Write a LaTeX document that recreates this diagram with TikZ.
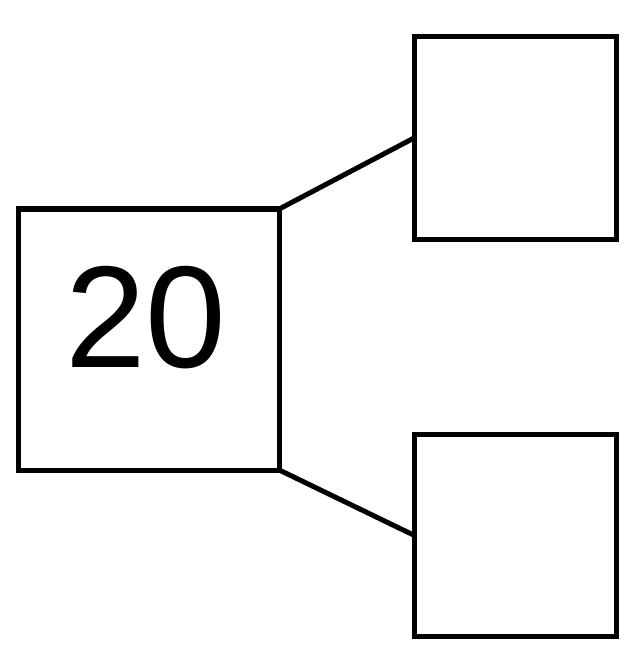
\documentclass[tikz,border=0pt]{standalone}
\usepackage{fontspec}
\setmainfont{Liberation Sans}
\usepackage{tikz}
\usetikzlibrary{positioning}

\tikzset{
    box/.style={draw, line width=2.5pt, outer sep=0pt, inner sep=0pt},
    bigbox/.style={box, minimum size=130.5pt},
    smallbox/.style={box, minimum size=101pt},
    link/.style={draw, line width=2.5pt}
}

\begin{document}
\begin{tikzpicture}[x=0.5pt,y=-0.5pt]
        % Page
        \useasboundingbox (0,0) rectangle (640,652);

        % Boxes
        \node [bigbox] (root) at (148.75,339.5) {};
        \node [smallbox] (up) at (515,138) {};
        \node [smallbox] (down) at (515,535.25) {};

        % Value
        \node [anchor=base, inner sep=0pt, font=\fontsize{72.5pt}{80pt}\selectfont]
            (val) at (146,367) {20};

        % Connectors
        \draw [link] (root.north east) -- (up.west);
        \draw [link] (root.south east) -- (down.west);
\end{tikzpicture}
\end{document}
